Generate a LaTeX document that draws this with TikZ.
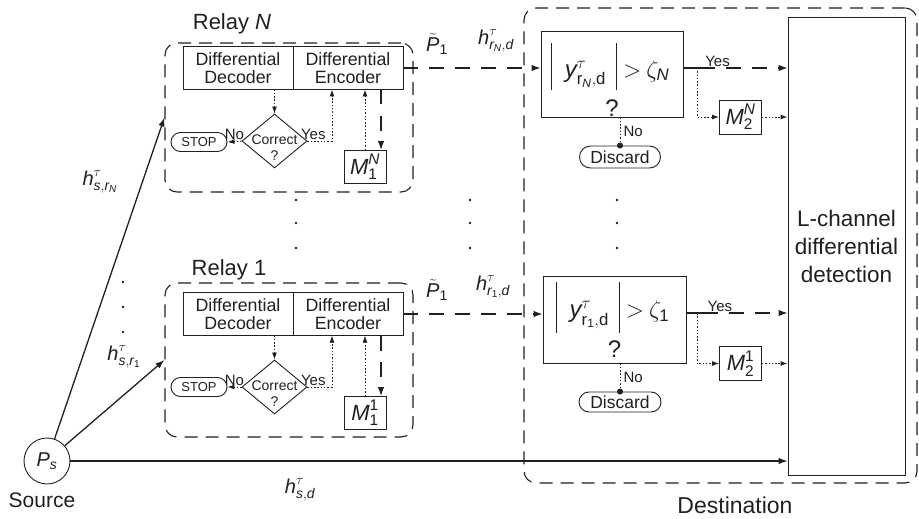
\RequirePackage{fix-cm}
\documentclass[tikz,border=0pt]{standalone}
\usepackage{amsmath}
\usepackage{fontspec}
\setmainfont{Liberation Sans}
\usepackage{tikz}
\usetikzlibrary{shapes.geometric,shapes.misc,arrows.meta,positioning}
\definecolor{rlink}{HTML}{231F20}
\newcommand{\vi}[1]{\textit{#1}}
\newcommand{\tbar}[2]{\vrule width 1pt height #1 depth #2}

\begin{document}
\begin{tikzpicture}[
    x=1pt, y=-1pt,
    every node/.style={text=rlink, font=\fontsize{17}{19}\selectfont},
    panel/.style ={rectangle, draw=rlink, rounded corners=12pt, line width=1.1pt,
                   dash pattern=on 13pt off 8pt, inner sep=0pt},
    codec/.style ={rectangle, draw=rlink, minimum width=110pt, minimum height=43pt,
                   inner sep=0pt, outer sep=0pt, align=center, line width=0.9pt,
                   font=\fontsize{17.8}{18.5}\selectfont},
    check/.style ={diamond, draw=rlink, minimum width=65pt, minimum height=54pt,
                   inner sep=0pt, line width=0.9pt},
    checktxt/.style={align=center, inner sep=0pt, font=\fontsize{14}{16}\selectfont},
    pill/.style  ={rounded rectangle, draw=rlink, inner sep=0pt, line width=0.9pt},
    mem/.style   ={rectangle, draw=rlink, minimum width=42pt, minimum height=33pt,
                   inner sep=0pt, line width=0.9pt, font=\fontsize{22}{24}\selectfont},
    decide/.style={rectangle, draw=rlink, minimum width=142pt, minimum height=86pt,
                   inner sep=0pt, align=center, line width=0.9pt,
                   font=\fontsize{24}{28}\selectfont},
    detect/.style={rectangle, draw=rlink, minimum width=117pt, minimum height=458pt,
                   inner sep=0pt, align=center, line width=0.9pt,
                   font=\fontsize{22.5}{28}\selectfont},
    flow/.style={-{Latex[length=9pt, width=6.5pt]}, draw=rlink, line width=1.3pt},
    flowd/.style={flow, dash pattern=on 15pt off 11pt},
    flowdot/.style={-{Latex[length=7pt, width=5pt]}, draw=rlink, line width=1pt,
                    dash pattern=on 1.5pt off 1.8pt},
    lbl/.style={font=\fontsize{15}{17}\selectfont, inner sep=1pt},
    mlbl/.style={font=\fontsize{20}{22}\selectfont, inner sep=0pt},
    biglbl/.style={font=\fontsize{21}{23}\selectfont, inner sep=0pt},
  ]
  \useasboundingbox (0,0) rectangle (919,519);

  % relay N
  \node[panel, minimum width=248pt, minimum height=149pt] (RelN) at (289,117.5) {};
  \node[biglbl, font=\fontsize{22}{24}\selectfont] (RelNlbl) at (232,24) {Relay \vi{N}};
  \node[codec] (DcdN) at (238,68) {Differential\\Decoder};
  \node[codec, right=0pt of DcdN] (EncN) {Differential\\Encoder};
  \node[check] (CorN) at (274.5,141) {};
  \node[checktxt] (CorNt) at ([yshift=-7pt]CorN.center) {Correct\\?};
  \node[pill, minimum width=56pt, minimum height=19pt, font=\fontsize{13}{14}\selectfont]
    (StopN) at (199,142) {STOP};
  \node[mem] (M1N) at (365,167) {$\vi{M}^{\vi{N}}_{\text{1}}$};

  \draw[flowdot] (DcdN.south -| CorN.north) -- (CorN.north);
  \draw[flowdot] (CorN.west) -- (StopN.east) node[lbl, midway, above] {No};
  \draw[flowdot] (CorN.east) -| ([xshift=-16pt]EncN.south) node[lbl, pos=0.12, above] {Yes};
  \draw[flowdot] (M1N.north) -- (M1N.north |- EncN.south);
  \draw[flowd] ([xshift=16pt]M1N.north |- EncN.south) -- ([xshift=16pt]M1N.north);

  % relay 1
  \node[panel, minimum width=248pt, minimum height=154pt] (Rel1) at (289,360) {};
  \node[biglbl, font=\fontsize{22}{24}\selectfont] (Rel1lbl) at (229,270) {Relay 1};
  \node[codec] (Dcd1) at (238,314) {Differential\\Decoder};
  \node[codec, right=0pt of Dcd1] (Enc1) {Differential\\Encoder};
  \node[check] (Cor1) at (274.5,387) {};
  \node[checktxt] (Cor1t) at ([yshift=-7pt]Cor1.center) {Correct\\?};
  \node[pill, minimum width=56pt, minimum height=19pt, font=\fontsize{13}{14}\selectfont]
    (Stop1) at (199,387) {STOP};
  \node[mem] (M11) at (365,413) {$\vi{M}^{\text{1}}_{\text{1}}$};

  \draw[flowdot] (Dcd1.south -| Cor1.north) -- (Cor1.north);
  \draw[flowdot] (Cor1.west) -- (Stop1.east) node[lbl, midway, above] {No};
  \draw[flowdot] (Cor1.east) -| ([xshift=-16pt]Enc1.south) node[lbl, pos=0.12, above] {Yes};
  \draw[flowdot] (M11.north) -- (M11.north |- Enc1.south);
  \draw[flowd] ([xshift=16pt]M11.north |- Enc1.south) -- ([xshift=16pt]M11.north);

  % destination
  \node[panel, minimum width=393pt, minimum height=475pt] (Dest) at (720.5,245.5) {};
  \node[biglbl, font=\fontsize{23}{25}\selectfont] (Destlbl) at (735,505) {Destination};
  \node[detect] (Det) at (846.5,246) {L-channel\\differential\\detection};

  \node[decide] (TstN) at (612,74)
    {$\vrule width 0pt height 46pt\tbar{34pt}{13pt}\kern13pt\vi{y}^{\tau}_{\text{r}_{\vi{N}},\text{d}}\kern10pt
      \tbar{34pt}{13pt}\kern6pt{>}\kern5pt\zeta_{\vi{N}}\kern4pt$\\[9pt]?};
  \node[pill, minimum width=81pt, minimum height=22pt, font=\fontsize{17.5}{19}\selectfont]
    (DisN) at (620,157) {Discard};
  \node[mem, minimum height=34pt] (M2N) at (740.5,117) {$\vi{M}^{\vi{N}}_{\text{2}}$};
  \coordinate (SplN) at (700,68);

  \node[decide, minimum width=143pt, minimum height=87pt] (Tst1) at (614.5,319.5)
    {$\tbar{36pt}{15pt}\kern13pt\vi{y}^{\tau}_{\text{r}_{\text{1}},\text{d}}\kern10pt
      \tbar{36pt}{15pt}\kern6pt{>}\kern5pt\zeta_{\text{1}}\kern4pt$\\[7pt]?};
  \node[pill, minimum width=82pt, minimum height=20pt, font=\fontsize{17.5}{19}\selectfont]
    (Dis1) at (620,402) {Discard};
  \node[mem, minimum height=34pt] (M21) at (740.5,363.5) {$\vi{M}^{\text{1}}_{\text{2}}$};
  \coordinate (Spl1) at (703,313);

  \draw[flowd] (EncN.east) -- (EncN.east -| TstN.west);
  \draw[flowd] (Enc1.east) -- (Enc1.east -| Tst1.west);
  \node[mlbl] (PtN) at (437,44) {$\tilde{\vi{P}}_{\text{1}}$};
  \node[mlbl] (HrdN) at (496,41) {$\vi{h}^{\tau}_{\vi{r}_{\vi{N}},\vi{d}}$};
  \node[mlbl] (Pt1) at (437,290) {$\tilde{\vi{P}}_{\text{1}}$};
  \node[mlbl] (Hrd1) at (493,287) {$\vi{h}^{\tau}_{\vi{r}_{\text{1}},\vi{d}}$};

  \draw[draw=rlink, line width=1.3pt] (TstN.east |- SplN) -- (SplN);
  \draw[flowd] (SplN) -- (SplN -| Det.west) node[lbl, pos=0.2, above] {Yes};
  \draw[flowdot] ([xshift=-3pt]SplN) |- (M2N.west);
  \draw[flowdot] (M2N.east) -- (M2N.east -| Det.west);
  \draw[flowdot, -{Circle[length=6pt]}, shorten >=-3pt] (DisN.north |- TstN.south) -- (DisN.north)
    node[lbl, midway, right=2pt] {No};

  \draw[draw=rlink, line width=1.3pt] (Tst1.east |- Spl1) -- (Spl1);
  \draw[flowd] (Spl1) -- (Spl1 -| Det.west) node[lbl, pos=0.2, above] {Yes};
  \draw[flowdot] ([xshift=-6pt]Spl1) |- (M21.west);
  \draw[flowdot] (M21.east) -- (M21.east -| Det.west);
  \draw[flowdot, -{Circle[length=6pt]}, shorten >=-3pt] (Dis1.north |- Tst1.south) -- (Dis1.north)
    node[lbl, midway, right=2pt] {No};

  % source
  \node[circle, draw=rlink, line width=0.9pt, minimum size=46pt, inner sep=0pt,
        font=\fontsize{20}{22}\selectfont] (Ps) at (47,461) {$\vi{P}_{\vi{s}}$};
  \node[biglbl] (Srclbl) at (42,500) {Source};

  \draw[flow] (Ps) -- (RelN.west);
  \draw[flow] (Ps) -- (Rel1.west);
  \draw[flow] (Ps.east) -- (Ps.east -| Det.west);
  \node[mlbl] (HsrN) at (100,182) {$\vi{h}^{\tau}_{\vi{s},\vi{r}_{\vi{N}}}$};
  \node[mlbl] (Hsr1) at (124,357) {$\vi{h}^{\tau}_{\vi{s},\vi{r}_{\text{1}}}$};
  \node[mlbl] (Hsd) at (300,490) {$\vi{h}^{\tau}_{\vi{s},\vi{d}}$};

  \foreach \x in {296,470,617}
    \foreach \y in {200,223,248}
      \fill[rlink] (\x,\y) circle (1.3pt);
  \foreach \y in {282,307,332}
    \fill[rlink] (123,\y) circle (1.3pt);

\end{tikzpicture}
\end{document}
